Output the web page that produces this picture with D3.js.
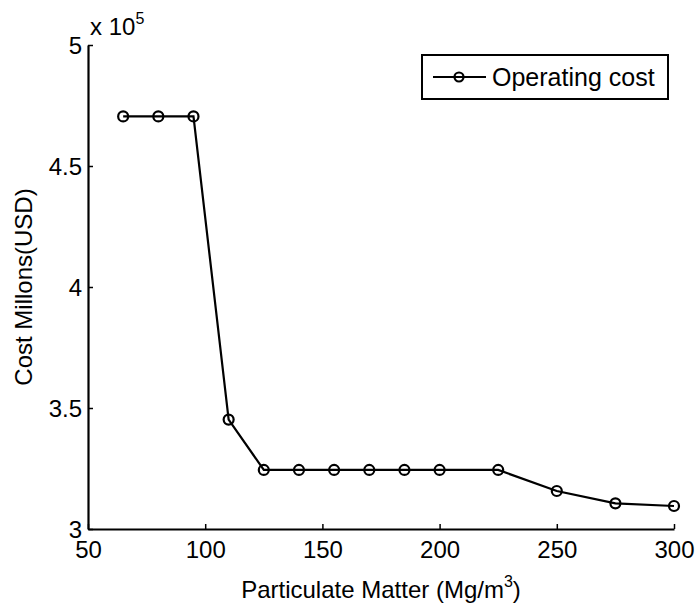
<!DOCTYPE html>
<html>
<head>
<meta charset="utf-8">
<script src="https://cdn.jsdelivr.net/npm/d3@7"></script>
<style>
  body { margin: 0; background: #fff; }
  text { font-family: "Liberation Sans", Arial, Helvetica, sans-serif; fill: #000; }
</style>
</head>
<body>
<svg id="chart" width="698" height="612"></svg>
<script>
// particulate matter levels (x) and operating cost in units of 1e5 USD (y)
const pm = [65, 80, 95, 110, 125, 140, 155, 170, 185, 200, 225, 250, 275, 300];
const cost = [4.705, 4.705, 4.705, 3.452, 3.244, 3.244, 3.244, 3.244, 3.244, 3.244, 3.244, 3.157, 3.106, 3.095];
const seriesName = "Operating cost";
const xTicks = [50, 100, 150, 200, 250, 300];
const yTicks = [3, 3.5, 4, 4.5, 5];

const svg = d3.select("#chart");
const plotL = 88, plotR = 674, plotT = 45, plotB = 529;

const x = d3.scaleLinear().domain([50, 300]).range([plotL, plotR]);
const y = d3.scaleLinear().domain([3, 5]).range([plotB, plotT]);

const xAxis = svg.append("g")
  .attr("transform", `translate(0,${plotB})`)
  .call(d3.axisBottom(x).tickValues(xTicks).tickSizeInner(-5).tickSizeOuter(0).tickPadding(12));

const yAxis = svg.append("g")
  .attr("transform", `translate(${plotL},0)`)
  .call(d3.axisLeft(y).tickValues(yTicks).tickFormat(d3.format("")).tickSizeInner(-5).tickSizeOuter(0).tickPadding(6));

[xAxis, yAxis].forEach(g => {
  g.select(".domain").attr("stroke", "#000").attr("stroke-width", 2.2);
  g.selectAll(".tick line").attr("stroke", "#000").attr("stroke-width", 1.5);
  g.selectAll(".tick text").attr("font-size", 24).attr("fill", "#000");
});
xAxis.selectAll(".tick text").attr("dy", "0.71em");
yAxis.selectAll(".tick text").attr("dy", "0.36em");

// exponent label
const expo = svg.append("text")
  .attr("x", plotL + 2).attr("y", 35)
  .attr("font-size", 24);
expo.append("tspan").text("x 10");
expo.append("tspan").attr("font-size", 16).attr("dy", -11).text("5");

// axis titles
const xt = svg.append("text")
  .attr("x", (plotL + plotR) / 2).attr("y", 598)
  .attr("text-anchor", "middle").attr("font-size", 24);
xt.append("tspan").text("Particulate Matter (Mg/m");
xt.append("tspan").attr("font-size", 16).attr("dy", -11).text("3");
xt.append("tspan").attr("dy", 11).text(")");

svg.append("text")
  .attr("transform", `translate(32,${(plotT + plotB) / 2}) rotate(-90)`)
  .attr("text-anchor", "middle").attr("font-size", 24)
  .text("Cost Millons(USD)");

// series
const data = pm.map((d, i) => ({ x: d, y: cost[i] }));

svg.append("path")
  .datum(data)
  .attr("fill", "none")
  .attr("stroke", "#000")
  .attr("stroke-width", 2.2)
  .attr("d", d3.line().x(d => x(d.x)).y(d => y(d.y)));

svg.selectAll("circle.pt")
  .data(data)
  .enter()
  .append("circle")
  .attr("class", "pt")
  .attr("cx", d => x(d.x))
  .attr("cy", d => y(d.y))
  .attr("r", 5)
  .attr("fill", "none")
  .attr("stroke", "#000")
  .attr("stroke-width", 2.2);

// legend
const lg = svg.append("g").attr("transform", "translate(422,55)");
lg.append("rect")
  .attr("width", 246).attr("height", 44)
  .attr("fill", "#fff").attr("stroke", "#000").attr("stroke-width", 2);
lg.append("line")
  .attr("x1", 11).attr("x2", 64).attr("y1", 22).attr("y2", 22)
  .attr("stroke", "#000").attr("stroke-width", 2.2);
lg.append("circle")
  .attr("cx", 37).attr("cy", 22).attr("r", 4.5)
  .attr("fill", "none").attr("stroke", "#000").attr("stroke-width", 2.2);
lg.append("text")
  .attr("x", 70).attr("y", 22).attr("dy", "0.36em")
  .attr("font-size", 25)
  .text(seriesName);
</script>
</body>
</html>
